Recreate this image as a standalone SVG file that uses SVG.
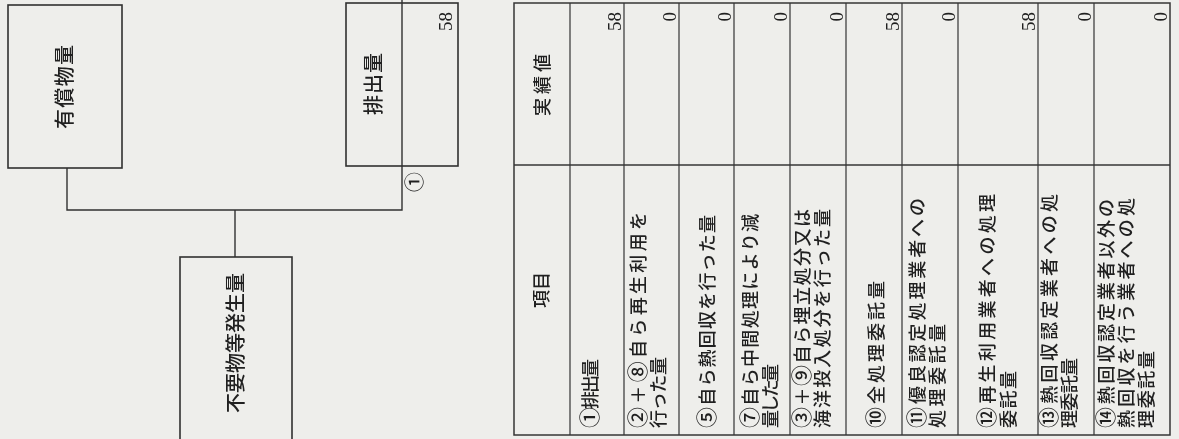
<svg xmlns="http://www.w3.org/2000/svg" width="1179" height="439" viewBox="0 0 1179 439">
<style>
.bg{fill:#eeeeeb}
.box{fill:none;stroke:#2e2e2e;stroke-width:1.6}
.ln{fill:none;stroke:#2e2e2e;stroke-width:1.4}
.grid{fill:none;stroke:#333;stroke-width:1.2}
.t{font-family:"Noto Sans CJK JP","Noto Sans CJK SC",sans-serif;fill:#1e1e1e;font-size:18px;font-weight:500}
.c{font-size:21px}
.bl{font-family:"Noto Sans CJK JP","Noto Sans CJK SC",sans-serif;fill:#1e1e1e;font-size:20px;font-weight:500;text-anchor:middle}
.n{font-family:"Liberation Serif",serif;fill:#1e1e1e;font-size:19px;text-anchor:end}
</style>
<rect class="bg" x="0" y="0" width="1179" height="439"/>
<g opacity="0.99">
<g id="connectors">
<path class="ln" d="M402,0 V210 H67 V168"/>
<path class="ln" d="M235,210 V257"/>
</g>
<g id="node-yushobutsu">
<rect class="box" x="8" y="5" width="114" height="163"/>
<text class="bl" transform="translate(72,87) rotate(-90)" textLength="84" lengthAdjust="spacing">有償物&#x91CF;</text>
</g>
<g id="node-haishutsu">
<rect class="box" x="346" y="3" width="112" height="163"/>
<text class="bl" transform="translate(381,84) rotate(-90)" textLength="62" lengthAdjust="spacing">排出&#x91CF;</text>
<text class="n" transform="translate(452,12) rotate(-90)">58</text>
<text class="t" transform="translate(422,182) rotate(-90)" style="text-anchor:middle;font-size:20px">①</text>
</g>
<g id="node-fuyobutsu">
<rect class="box" x="180" y="257" width="112" height="200"/>
<text class="bl" transform="translate(243,343) rotate(-90)" textLength="140" lengthAdjust="spacing">不要物等発生&#x91CF;</text>
</g>
<g id="table">
<rect class="grid" x="514" y="3" width="656" height="432" style="stroke-width:1.5"/>
<path class="grid" d="M514,165 H1170" style="stroke-width:1.6"/>
<path class="grid" d="M570,3 V435 M624,3 V435 M679,3 V435 M734,3 V435 M790,3 V435 M846,3 V435 M902,3 V435 M958,3 V435 M1038,3 V435 M1094,3 V435"/>
<text class="t" transform="translate(548,290) rotate(-90)" style="text-anchor:middle" textLength="36" lengthAdjust="spacing">項目</text>
<text class="t" transform="translate(549,85) rotate(-90)" style="text-anchor:middle" textLength="62" lengthAdjust="spacing">実績値</text>
<text class="t" transform="translate(597,428) rotate(-90)" textLength="69" lengthAdjust="spacing"><tspan class="c">①</tspan>排出&#x91CF;</text>
<text class="t" transform="translate(645,428) rotate(-90)" textLength="216" lengthAdjust="spacing"><tspan class="c">②</tspan>＋<tspan class="c">⑧</tspan>自ら再生利用を</text>
<text class="t" transform="translate(665,428) rotate(-90)" textLength="71" lengthAdjust="spacing">行った&#x91CF;</text>
<text class="t" transform="translate(714,428) rotate(-90)" textLength="213" lengthAdjust="spacing"><tspan class="c">⑤</tspan>自ら熱回収を行った&#x91CF;</text>
<text class="t" transform="translate(757,428) rotate(-90)" textLength="214" lengthAdjust="spacing"><tspan class="c">⑦</tspan>自ら中間処理により減</text>
<text class="t" transform="translate(777,428) rotate(-90)" textLength="64" lengthAdjust="spacing">&#x91CF;した&#x91CF;</text>
<text class="t" transform="translate(809,428) rotate(-90)" textLength="219" lengthAdjust="spacing"><tspan class="c">③</tspan>＋<tspan class="c">⑨</tspan>自ら埋立処分又は</text>
<text class="t" transform="translate(829,428) rotate(-90)" textLength="219" lengthAdjust="spacing">海洋投入処分を行った&#x91CF;</text>
<text class="t" transform="translate(883,428) rotate(-90)" textLength="147" lengthAdjust="spacing"><tspan class="c">⑩</tspan>全処理委託&#x91CF;</text>
<text class="t" transform="translate(924,428) rotate(-90)" textLength="230" lengthAdjust="spacing"><tspan class="c">⑪</tspan>優良認定処理業者への</text>
<text class="t" transform="translate(944,428) rotate(-90)" textLength="104" lengthAdjust="spacing">処理委託&#x91CF;</text>
<text class="t" transform="translate(994,428) rotate(-90)" textLength="234" lengthAdjust="spacing"><tspan class="c">⑫</tspan>再生利用業者への処理</text>
<text class="t" transform="translate(1015,428) rotate(-90)" textLength="57" lengthAdjust="spacing">委託&#x91CF;</text>
<text class="t" transform="translate(1056,428) rotate(-90)" textLength="234" lengthAdjust="spacing"><tspan class="c">⑬</tspan>熱回収認定業者への処</text>
<text class="t" transform="translate(1076,428) rotate(-90)" textLength="70" lengthAdjust="spacing">理委託&#x91CF;</text>
<text class="t" transform="translate(1113,428) rotate(-90)" textLength="229" lengthAdjust="spacing"><tspan class="c">⑭</tspan>熱回収認定業者以外の</text>
<text class="t" transform="translate(1133,428) rotate(-90)" textLength="230" lengthAdjust="spacing">熱回収を行う業者への処</text>
<text class="t" transform="translate(1153,428) rotate(-90)" textLength="77" lengthAdjust="spacing">理委託&#x91CF;</text>
<text class="n" transform="translate(621,12) rotate(-90)">58</text>
<text class="n" transform="translate(676,12) rotate(-90)">0</text>
<text class="n" transform="translate(731,12) rotate(-90)">0</text>
<text class="n" transform="translate(787,12) rotate(-90)">0</text>
<text class="n" transform="translate(843,12) rotate(-90)">0</text>
<text class="n" transform="translate(899,12) rotate(-90)">58</text>
<text class="n" transform="translate(955,12) rotate(-90)">0</text>
<text class="n" transform="translate(1035,12) rotate(-90)">58</text>
<text class="n" transform="translate(1091,12) rotate(-90)">0</text>
<text class="n" transform="translate(1167,12) rotate(-90)">0</text>
</g>
</g>
</svg>
